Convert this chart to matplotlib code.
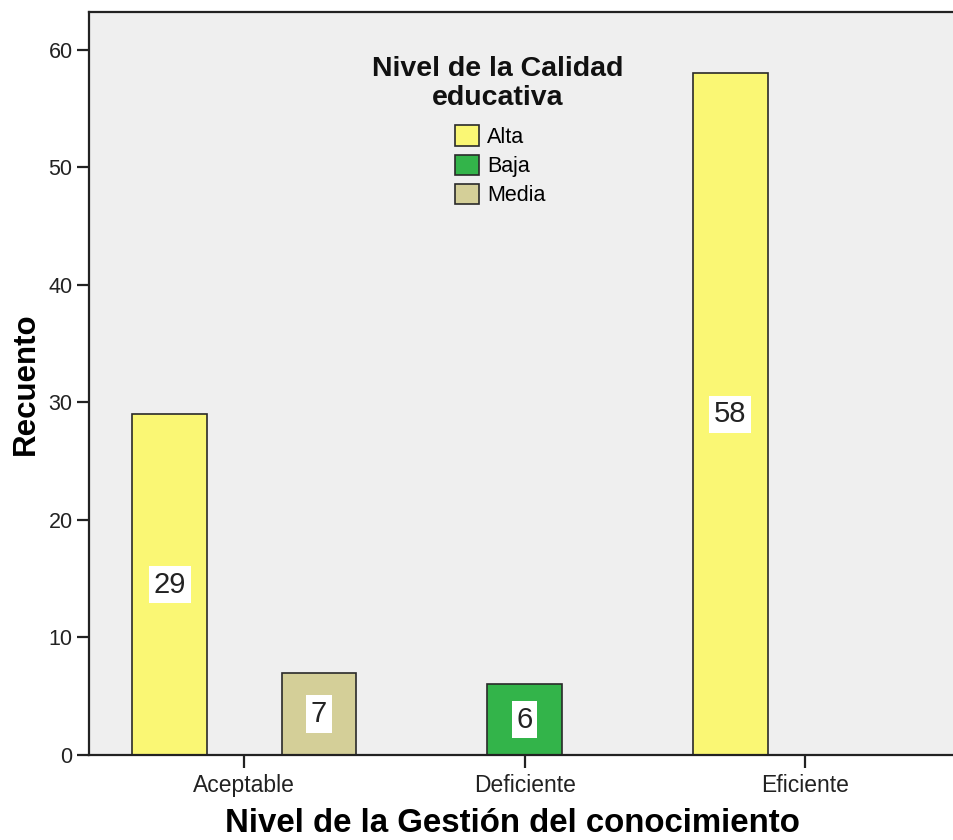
import numpy as np
import matplotlib
matplotlib.use('Agg')
import matplotlib.pyplot as plt

plt.rcParams['font.family'] = ['Liberation Sans', 'DejaVu Sans']

# Data (counts per group)
categories = ['Aceptable', 'Deficiente', 'Eficiente']
series = ['Alta', 'Baja', 'Media']
alta = [29, 0, 58]
baja = [0, 6, 0]
media = [7, 0, 0]
colors = ['#FAF774', '#33B44A', '#D4CF98']

fig = plt.figure(figsize=(9.54, 8.4), dpi=100)
ax = fig.add_axes([0.0936, 0.1012, 0.9064, 0.8842])
ax.set_facecolor('#EFEFEF')

x = np.arange(len(categories))
width = 0.266
offsets = [-width, 0, width]

handles = []
for name, vals, off, col in zip(series, [alta, baja, media], offsets, colors):
    vals = np.array(vals, dtype=float)
    mask = vals > 0
    bars = ax.bar(x[mask] + off, vals[mask], width, color=col,
                  edgecolor='#2a2a2a', linewidth=1.2, label=name)
    handles.append(bars)
    ax.bar_label(bars, labels=[str(int(v)) for v in vals[mask]],
                 label_type='center', fontsize=21, color='#222222',
                 bbox=dict(boxstyle='square,pad=0.16', facecolor='white',
                           edgecolor='none'))

ax.set_xlim(-0.553, 2.532)
ax.set_ylim(0, 63.2)
ax.set_yticks([0, 10, 20, 30, 40, 50, 60])
ax.set_xticks(x)
ax.set_xticklabels(categories)
ax.tick_params(axis='y', labelsize=15.5, length=9, width=1.6, pad=3, colors='#222222')
ax.tick_params(axis='x', labelsize=16.5, length=9, width=1.6, pad=5, colors='#222222')

for s in ['left', 'bottom', 'top']:
    ax.spines[s].set_linewidth(1.6)
    ax.spines[s].set_color('#222222')
ax.spines['right'].set_visible(False)

ax.set_ylabel('Recuento', fontsize=22.5, fontweight='bold')
ax.yaxis.set_label_coords(-0.0565, 0.5)
ax.set_xlabel('Nivel de la Gestión del conocimiento', fontsize=23.8,
              fontweight='bold')
ax.xaxis.set_label_coords(0.489, -0.0714)

# legend title drawn separately, entries below it
ax.text(0.4727, 0.9035, 'Nivel de la Calidad\neducativa', transform=ax.transAxes,
        ha='center', va='center', multialignment='center', fontsize=20.5,
        fontweight='bold', linespacing=1.15, color='#111111')
ax.legend(handles=handles, loc='upper left', bbox_to_anchor=(0.4229, 0.8476),
          frameon=False, fontsize=15.5, borderpad=0, borderaxespad=0,
          handlelength=1.1, handleheight=1.1, handletextpad=0.4,
          labelspacing=0.3)

fig.savefig('out.png', dpi=100)
